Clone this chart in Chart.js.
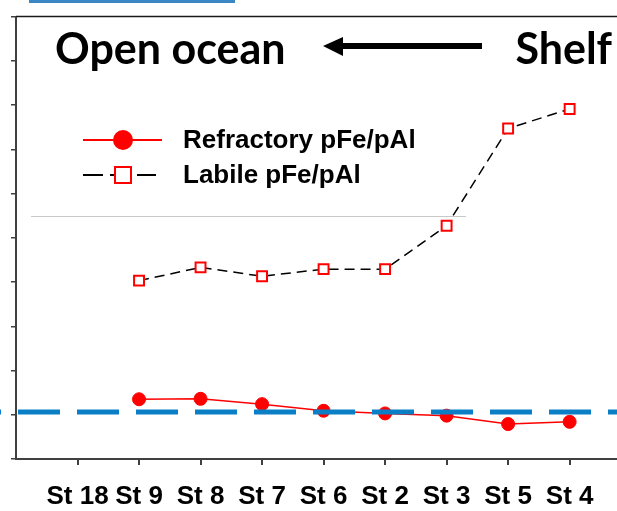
<!DOCTYPE html>
<html>
<head>
<meta charset="utf-8">
<script src="https://cdn.jsdelivr.net/npm/chart.js@4/dist/chart.umd.min.js"></script>
<style>
  html, body { margin: 0; padding: 0; background: #fff; overflow: hidden; }
  #wrap { width: 617px; height: 511px; }
</style>
</head>
<body>
<div id="wrap"><canvas id="chart_canvas" width="617" height="511"></canvas></div>
<script>
"use strict";
// stations, open ocean (left) to shelf (right)
const stations = ["St 18", "St 9", "St 8", "St 7", "St 6", "St 2", "St 3", "St 5", "St 4"];
const refractory = [null, 1.35, 1.36, 1.24, 1.09, 1.03, 0.98, 0.79, 0.84];
const labile = [null, 4.03, 4.33, 4.13, 4.29, 4.29, 5.27, 7.47, 7.91];
const ref_level = 1.06;
const x_min = -1.26, x_max = 8.77;

function to_points(arr) {
  const out = [];
  arr.forEach((v, i) => {
    if(v !== null) out.push({ x: i, y: v });
  });
  return out;
}

const label_font = "'Liberation Sans', Arial, sans-serif";
const axis_color = "#404040";

// extra drawing: header text, arrow, legend
const extras = {
  id: "extras",
  afterDraw(chart) {
    const ctx = chart.ctx;
    const area = chart.chartArea;
    ctx.save();

    // blue strip at the very top
    ctx.fillStyle = "#3b87c6";
    ctx.fillRect(29, 0, 206, 3);

    // top frame line
    ctx.strokeStyle = "#1a1a1a";
    ctx.lineWidth = 1.5;
    ctx.beginPath();
    ctx.moveTo(area.left, area.top);
    ctx.lineTo(area.right, area.top);
    ctx.stroke();

    // header
    ctx.fillStyle = "#000";
    ctx.font = "bold 43px Lato, 'Open Sans', sans-serif";
    ctx.textBaseline = "alphabetic";
    ctx.textAlign = "left";
    ctx.fillText("Open ocean", 55, 64);
    ctx.textAlign = "right";
    ctx.fillText("Shelf", 612, 64);

    // arrow pointing left
    ctx.fillRect(341, 43, 141, 6);
    ctx.beginPath();
    ctx.moveTo(323, 46);
    ctx.lineTo(343, 37);
    ctx.lineTo(343, 56);
    ctx.closePath();
    ctx.fill();

    // thin grey line under the legend
    ctx.strokeStyle = "#c8c8c8";
    ctx.lineWidth = 1;
    ctx.beginPath();
    ctx.moveTo(31, 216.5);
    ctx.lineTo(466, 216.5);
    ctx.stroke();

    // legend
    const ds = chart.data.datasets;
    ctx.strokeStyle = "#ff0000";
    ctx.lineWidth = 2;
    ctx.beginPath();
    ctx.moveTo(83, 140);
    ctx.lineTo(162, 140);
    ctx.stroke();
    ctx.fillStyle = "#ff0000";
    ctx.beginPath();
    ctx.arc(123, 140, 10, 0, Math.PI * 2);
    ctx.fill();

    ctx.strokeStyle = "#000";
    ctx.setLineDash([20, 7]);
    ctx.beginPath();
    ctx.moveTo(83, 175);
    ctx.lineTo(156, 175);
    ctx.stroke();
    ctx.setLineDash([]);
    ctx.fillStyle = "#fff";
    ctx.fillRect(115, 167, 16, 16);
    ctx.strokeStyle = "#ff0000";
    ctx.strokeRect(115, 167, 16, 16);

    ctx.fillStyle = "#000";
    ctx.font = "bold 26px " + label_font;
    ctx.textAlign = "left";
    ctx.fillText(ds[1].label, 183, 148);
    ctx.fillText(ds[2].label, 183, 183);

    ctx.restore();
  }
};

const chart_canvas = document.getElementById("chart_canvas");
new Chart(chart_canvas, {
  type: "line",
  data: {
    datasets: [
      {
        label: "reference",
        data: [{ x: x_min, y: ref_level }, { x: x_max, y: ref_level }],
        borderColor: "#0a7fc5",
        borderWidth: 5,
        borderDash: [42, 17],
        borderDashOffset: 41,
        pointRadius: 0,
        clip: false,
        order: 0
      },
      {
        label: "Refractory pFe/pAl",
        data: to_points(refractory),
        borderColor: "#ff0000",
        borderWidth: 1.5,
        backgroundColor: "#ff0000",
        pointStyle: "circle",
        pointRadius: 6.5,
        pointBorderWidth: 1,
        order: 1
      },
      {
        label: "Labile pFe/pAl",
        data: to_points(labile),
        borderColor: "#000",
        borderWidth: 1.5,
        borderDash: [10, 6],
        pointStyle: "rect",
        pointRadius: 7,
        pointBorderWidth: 2,
        pointBorderColor: "#ff0000",
        pointBackgroundColor: "#fff",
        order: 2
      }
    ]
  },
  options: {
    responsive: false,
    animation: false,
    layout: { autoPadding: false, padding: { left: 11, top: 16.5, right: 0, bottom: 0 } },
    plugins: {
      legend: { display: false },
      tooltip: { enabled: false }
    },
    scales: {
      x: {
        type: "linear",
        min: -1,
        max: x_max,
        afterBuildTicks: scale => {
          scale.ticks = stations.map((s, i) => ({ value: i }));
        },
        afterFit: scale => {
          // labels sit low, keep the axis box tight
          scale.height = 52;
          scale.paddingLeft = 0;
          scale.paddingRight = 0;
        },
        grid: {
          drawOnChartArea: false,
          drawTicks: true,
          tickLength: 6,
          color: axis_color,
          lineWidth: 2
        },
        border: { display: true, color: axis_color, width: 2 },
        ticks: {
          autoSkip: false,
          maxRotation: 0,
          padding: 19,
          color: "#000",
          font: { family: label_font, size: 26, weight: "bold", lineHeight: 1 },
          callback: v => stations[v]
        }
      },
      y: {
        min: 0,
        max: 10,
        grid: {
          drawOnChartArea: false,
          drawTicks: true,
          tickLength: 5,
          color: axis_color,
          lineWidth: 1.5
        },
        border: { display: true, color: axis_color, width: 2 },
        ticks: { stepSize: 1, display: false }
      }
    }
  },
  plugins: [extras]
});
</script>
</body>
</html>
